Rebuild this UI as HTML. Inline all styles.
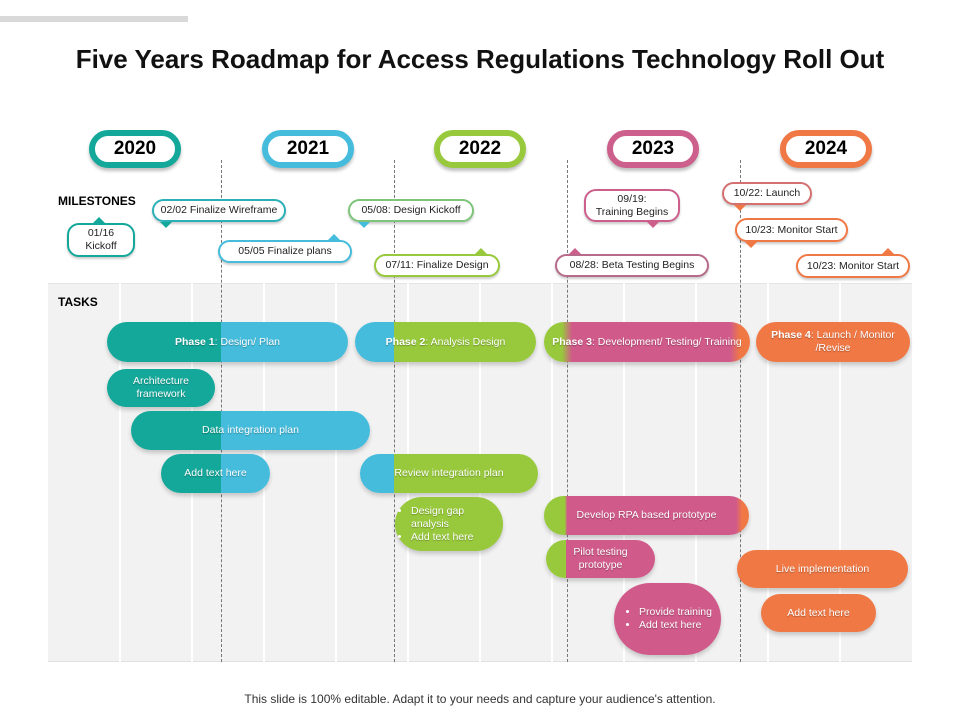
<!DOCTYPE html>
<html><head><meta charset="utf-8"><style>
*{box-sizing:border-box;margin:0;padding:0}
body{width:960px;height:720px;background:#fff;font-family:"Liberation Sans",sans-serif;position:relative;overflow:hidden}
.a{position:absolute}
.grid{left:48px;top:283px;width:864px;height:379px;background:#f2f2f2;border-top:1px solid #e4e4e4;border-bottom:1px solid #e0e0e0}
.vl{top:283px;width:2px;height:379px;background:#fff}
.dl{top:160px;height:502px;border-left:1px dashed #777;width:0}
.yr{height:38px;width:92px;border-radius:19px;border:6px solid;background:#fff;font-weight:bold;font-size:19px;text-align:center;line-height:26px;box-shadow:0 3px 3px rgba(0,0,0,.25)}
.ms{background:#fff;border:2px solid;border-radius:12px;font-size:10.5px;color:#222;text-align:center;line-height:13px;box-shadow:0 2px 2px rgba(0,0,0,.2);display:flex;align-items:center;justify-content:center}
.tri{width:0;height:0;border-left:6px solid transparent;border-right:6px solid transparent}
.bar{border-radius:20px;color:#fff;font-size:10.5px;display:flex;align-items:center;justify-content:center;text-align:center;line-height:13px;box-shadow:0 3px 4px rgba(0,0,0,.18);text-shadow:0 1px 1px rgba(0,0,0,.3)}
ul{text-align:left;padding-left:16px}
</style></head><body>
<div class="a" style="left:0;top:16px;width:188px;height:6px;background:#d9d9d9"></div>
<div class="a" style="left:0;top:44px;width:960px;text-align:center;font-size:26px;font-weight:bold;color:#111">Five Years Roadmap for Access Regulations Technology Roll Out</div>

<div class="a grid"></div>
<div class="a vl" style="left:119px"></div>
<div class="a vl" style="left:191px"></div>
<div class="a vl" style="left:263px"></div>
<div class="a vl" style="left:335px"></div>
<div class="a vl" style="left:407px"></div>
<div class="a vl" style="left:479px"></div>
<div class="a vl" style="left:551px"></div>
<div class="a vl" style="left:623px"></div>
<div class="a vl" style="left:695px"></div>
<div class="a vl" style="left:767px"></div>
<div class="a vl" style="left:839px"></div>
<div class="a dl" style="left:221px"></div>
<div class="a dl" style="left:394px"></div>
<div class="a dl" style="left:567px"></div>
<div class="a dl" style="left:740px"></div>

<div class="a yr" style="left:89px;top:130px;border-color:#14a89a">2020</div>
<div class="a yr" style="left:262px;top:130px;border-color:#45bcdc">2021</div>
<div class="a yr" style="left:434px;top:130px;border-color:#98c93c">2022</div>
<div class="a yr" style="left:607px;top:130px;border-color:#cc5f8c">2023</div>
<div class="a yr" style="left:780px;top:130px;border-color:#f07845">2024</div>

<div class="a" style="left:58px;top:194px;font-size:12px;font-weight:bold">MILESTONES</div>
<div class="a" style="left:58px;top:295px;font-size:12px;font-weight:bold">TASKS</div>

<!-- milestones -->
<div class="a tri" style="left:93px;top:217px;border-bottom:6px solid #14a89a"></div>
<div class="a ms" style="left:67px;top:223px;width:68px;height:34px;border-color:#14a89a">01/16<br>Kickoff</div>
<div class="a ms" style="left:152px;top:199px;width:134px;height:23px;border-color:#2cb0b8">02/02 Finalize Wireframe</div>
<div class="a tri" style="left:160px;top:222px;border-top:6px solid #14a89a"></div>
<div class="a tri" style="left:328px;top:234px;border-bottom:6px solid #45bcdc"></div>
<div class="a ms" style="left:218px;top:240px;width:134px;height:23px;border-color:#45bcdc">05/05 Finalize plans</div>
<div class="a ms" style="left:348px;top:199px;width:126px;height:23px;border-color:#7ec47a">05/08: Design Kickoff</div>
<div class="a tri" style="left:358px;top:222px;border-top:6px solid #45bcdc"></div>
<div class="a tri" style="left:475px;top:248px;border-bottom:6px solid #98c93c"></div>
<div class="a ms" style="left:374px;top:254px;width:126px;height:23px;border-color:#98c93c">07/11: Finalize Design</div>
<div class="a ms" style="left:584px;top:189px;width:96px;height:33px;border-color:#cc5f8c">09/19:<br>Training Begins</div>
<div class="a tri" style="left:647px;top:222px;border-top:6px solid #cc5f8c"></div>
<div class="a tri" style="left:569px;top:248px;border-bottom:6px solid #cc5f8c"></div>
<div class="a ms" style="left:555px;top:254px;width:154px;height:23px;border-color:#b86a8a">08/28: Beta Testing Begins</div>
<div class="a ms" style="left:722px;top:182px;width:90px;height:23px;border-color:#d47070">10/22: Launch</div>
<div class="a tri" style="left:734px;top:205px;border-top:6px solid #f07845"></div>
<div class="a ms" style="left:735px;top:218px;width:113px;height:24px;border-color:#f07845">10/23: Monitor Start</div>
<div class="a tri" style="left:745px;top:242px;border-top:6px solid #f07845"></div>
<div class="a tri" style="left:882px;top:248px;border-bottom:6px solid #f07845"></div>
<div class="a ms" style="left:796px;top:254px;width:114px;height:24px;border-color:#f07845">10/23: Monitor Start</div>

<!-- task bars -->
<div class="a bar" style="left:107px;top:322px;width:241px;height:40px;background:linear-gradient(90deg,#14a89a 114px,#45bcdc 114px)"><span><b>Phase 1</b>: Design/ Plan</span></div>
<div class="a bar" style="left:355px;top:322px;width:181px;height:40px;background:linear-gradient(90deg,#45bcdc 39px,#98c93c 39px)"><span><b>Phase 2</b>: Analysis Design</span></div>
<div class="a bar" style="left:544px;top:322px;width:206px;height:40px;background:linear-gradient(90deg,#98c93c 18px,#d05a8a 28px,#d05a8a 186px,#f07845 196px)"><span><b>Phase 3</b>: Development/ Testing/ Training</span></div>
<div class="a bar" style="left:756px;top:322px;width:154px;height:40px;background:#f07845"><span><b>Phase 4</b>: Launch / Monitor<br>/Revise</span></div>
<div class="a bar" style="left:107px;top:369px;width:108px;height:38px;background:#14a89a">Architecture<br>framework</div>
<div class="a bar" style="left:131px;top:411px;width:239px;height:39px;background:linear-gradient(90deg,#14a89a 90px,#45bcdc 90px)">Data integration plan</div>
<div class="a bar" style="left:161px;top:454px;width:109px;height:39px;background:linear-gradient(90deg,#14a89a 60px,#45bcdc 60px)">Add text here</div>
<div class="a bar" style="left:360px;top:454px;width:178px;height:39px;background:linear-gradient(90deg,#45bcdc 34px,#98c93c 34px)">Review integration plan</div>
<div class="a bar" style="left:395px;top:497px;width:108px;height:54px;background:#98c93c;border-radius:27px"><ul><li>Design gap analysis</li><li>Add text here</li></ul></div>
<div class="a bar" style="left:544px;top:496px;width:205px;height:39px;background:linear-gradient(90deg,#98c93c 21px,#d05a8a 23px,#d05a8a 192px,#f07845 198px)">Develop RPA based prototype</div>
<div class="a bar" style="left:546px;top:540px;width:109px;height:38px;background:linear-gradient(90deg,#98c93c 20px,#d05a8a 20px)">Pilot testing<br>prototype</div>
<div class="a bar" style="left:614px;top:583px;width:107px;height:72px;background:#d05a8a;border-radius:36px"><ul><li>Provide training</li><li>Add text here</li></ul></div>
<div class="a bar" style="left:737px;top:550px;width:171px;height:38px;background:#f07845">Live implementation</div>
<div class="a bar" style="left:761px;top:594px;width:115px;height:38px;background:#f07845">Add text here</div>

<div class="a" style="left:0;top:692px;width:960px;text-align:center;font-size:12px;color:#333">This slide is 100% editable. Adapt it to your needs and capture your audience's attention.</div>
</body></html>
